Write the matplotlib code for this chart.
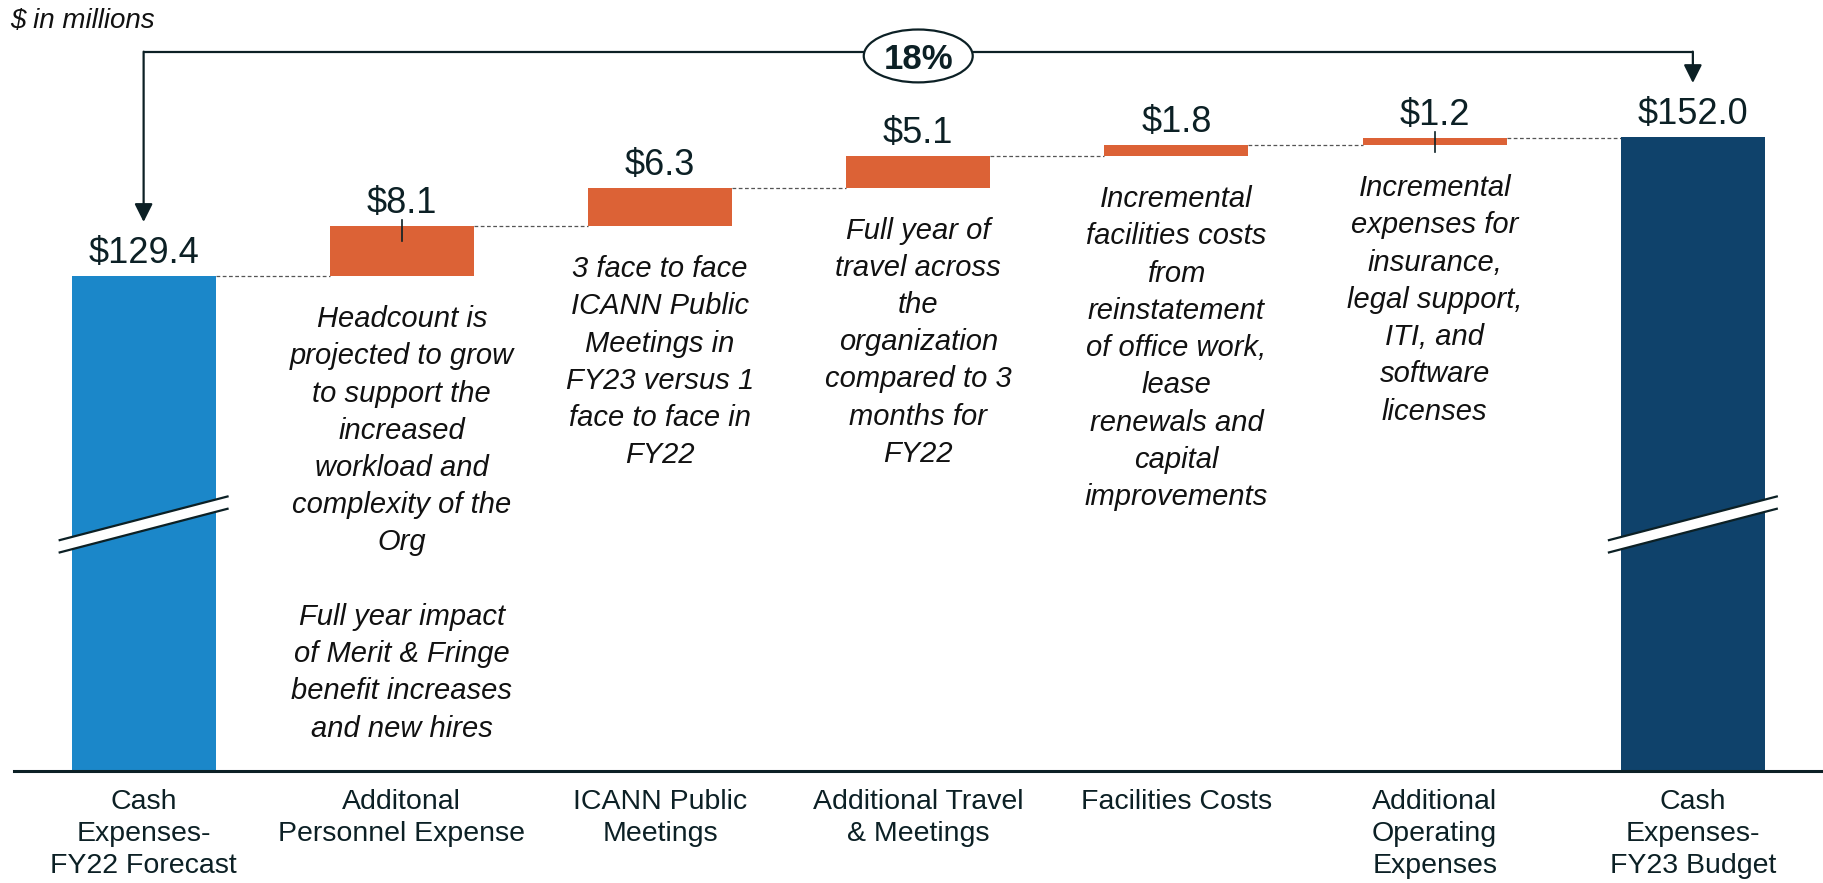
import matplotlib
matplotlib.use("Agg")
import matplotlib.pyplot as plt
from matplotlib.patches import Ellipse, Polygon
import numpy as np

plt.rcParams['font.family'] = ['Liberation Sans', 'DejaVu Sans']

# data ($ in millions)
categories = ["Cash\nExpenses-\nFY22 Forecast", "Additonal\nPersonnel Expense",
              "ICANN Public\nMeetings", "Additional Travel\n& Meetings",
              "Facilities Costs", "Additional\nOperating\nExpenses",
              "Cash\nExpenses-\nFY23 Budget"]
start_total = 129.4
increments = [8.1, 6.3, 5.1, 1.8, 1.2]
end_total = 152.0
growth_label = "18%"
notes = [
    "Headcount is\nprojected to grow\nto support the\nincreased\nworkload and\ncomplexity of the\nOrg\n\n"
    "Full year impact\nof Merit & Fringe\nbenefit increases\nand new hires",
    "3 face to face\nICANN Public\nMeetings in\nFY23 versus 1\nface to face in\nFY22",
    "Full year of\ntravel across\nthe\norganization\ncompared to 3\nmonths for\nFY22",
    "Incremental\nfacilities costs\nfrom\nreinstatement\nof office work,\nlease\nrenewals and\ncapital\nimprovements",
    "Incremental\nexpenses for\ninsurance,\nlegal support,\nITI, and\nsoftware\nlicenses",
]

BLUE = "#1b87c9"
NAVY = "#0f426b"
ORANGE = "#dc6236"
DARK = "#0c2025"

W, H = 1823, 883
fig = plt.figure(figsize=(W / 100, H / 100), dpi=100)
ax = fig.add_axes([14 / W, (H - 771) / H, 1 - 14 / W, 771 / H])
ax.set_xlim(-0.502, 6.504)
ax.set_ylim(48.9, 174.3)

n = len(categories)
x = np.arange(n)
w = 0.558
bottoms = start_total + np.concatenate([[0], np.cumsum(increments)[:-1]])
tops = bottoms + np.array(increments)

# totals
ax.bar(x[0], start_total, w, color=BLUE, zorder=2)
ax.bar(x[-1], end_total, w, color=NAVY, zorder=2)
# steps
ax.bar(x[1:-1], increments, w, bottom=bottoms, color=ORANGE, zorder=2)

# dashed connectors
levels = [start_total] + list(tops)
for i in range(n - 1):
    ax.plot([x[i] + w / 2, x[i + 1] - w / 2], [levels[i], levels[i]],
            ls=(0, (3, 2)), lw=0.9, color="#555555", zorder=1)

# value labels
values = [start_total] + increments + [end_total]
label_y = [start_total] + list(tops) + [end_total]
for i, (v, yy) in enumerate(zip(values, label_y)):
    ax.annotate(f"${v:.1f}", (x[i], yy), xytext=(0, 13), textcoords="offset pixels",
                ha="center", va="baseline", fontsize=26, color=DARK)

# small leader ticks on two of the steps
for i in (1, 5):
    ax.plot([x[i], x[i]], [tops[i - 1] + 1.0, tops[i - 1] - 2.4], color=DARK, lw=1.2, zorder=3)

# notes under the steps
for i, txt in enumerate(notes):
    ax.annotate(txt, (x[i + 1], bottoms[i]), xytext=(0, -29), textcoords="offset pixels",
                ha="center", va="top", multialignment="center", fontsize=21,
                style="italic", color="#111111", linespacing=1.42)

# axis breaks on the total bars
for i in (0, n - 1):
    dx, mid, half = 0.325, 89.0, 3.55
    xs = [x[i] - dx, x[i] + dx]
    up = [mid + 1.0 - half, mid + 1.0 + half]
    lo = [mid - 1.0 - half, mid - 1.0 + half]
    ax.add_patch(Polygon([(xs[0], up[0]), (xs[1], up[1]), (xs[1], lo[1]), (xs[0], lo[0])],
                         closed=True, facecolor="white", edgecolor="none", zorder=4))
    ax.plot(xs, up, color=DARK, lw=1.6, zorder=5)
    ax.plot(xs, lo, color=DARK, lw=1.6, zorder=5)

# growth bracket
bracket_y = 165.9
ax.plot([x[0], x[-1]], [bracket_y, bracket_y], color=DARK, lw=1.6, zorder=3,
        solid_capstyle="butt")
for i, yy in ((0, start_total), (n - 1, end_total)):
    ax.annotate("", xy=(x[i], yy + 8.8), xytext=(x[i], bracket_y),
                arrowprops=dict(arrowstyle="-|>,head_length=1.0,head_width=0.5",
                                mutation_scale=11, lw=1.6, color=DARK,
                                shrinkA=0, shrinkB=0), zorder=3)
ax.add_patch(Ellipse((x[3], bracket_y - 0.7), 0.422, 8.6, facecolor="white",
                     edgecolor=DARK, lw=1.6, zorder=4))
ax.text(x[3], bracket_y - 0.7, growth_label, ha="center", va="center_baseline",
        fontsize=25, fontweight="bold", color=DARK, zorder=5)

# axes styling
for s in ("top", "left", "right"):
    ax.spines[s].set_visible(False)
ax.spines["bottom"].set_color(DARK)
ax.spines["bottom"].set_linewidth(2.2)
ax.set_yticks([])
ax.set_xticks(x)
ax.set_xticklabels(categories, fontsize=20.5, color=DARK, linespacing=1.3)
ax.tick_params(axis="x", length=0, pad=13)

fig.text(10 / W, 1 - 21 / H, "$ in millions", ha="left", va="center",
         fontsize=20, style="italic", color="#111111")

fig.savefig("out.png", dpi=100)
